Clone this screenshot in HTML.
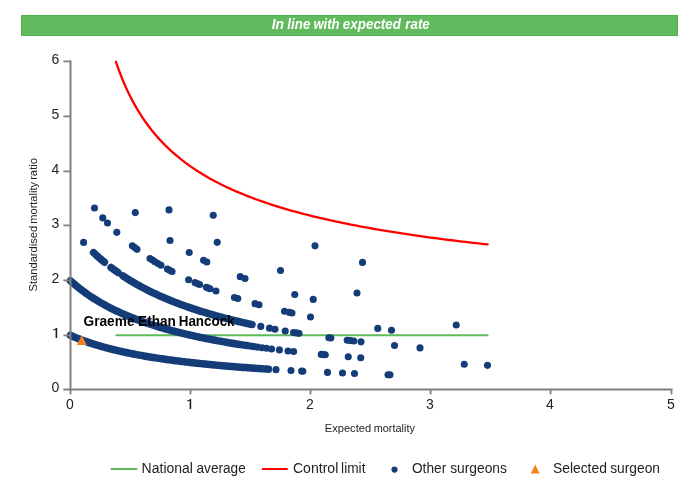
<!DOCTYPE html>
<html><head><meta charset="utf-8"><title>Chart</title>
<style>
html,body{margin:0;padding:0;background:#fff;}
body{width:700px;height:500px;overflow:hidden;font-family:"Liberation Sans",sans-serif;}
svg{display:block;font-family:"Liberation Sans",sans-serif;}
</style></head><body>
<svg width="700" height="500" viewBox="0 0 700 500">
<rect width="700" height="500" fill="#fff"/>
<rect x="21.5" y="15.5" width="656" height="20" fill="#61ba5d" stroke="#52b04f" stroke-width="1"/>
<line x1="116.3" y1="335.2" x2="487.6" y2="335.2" stroke="#5fba5c" stroke-width="2" stroke-linecap="round"/>
<polyline points="115.94,61.79 115.95,61.82 115.98,61.90 116.02,62.04 116.09,62.23 116.17,62.48 116.27,62.78 116.39,63.13 116.53,63.54 116.69,64.00 116.87,64.51 117.06,65.07 117.28,65.68 117.51,66.34 117.76,67.05 118.03,67.80 118.32,68.60 118.62,69.44 118.95,70.33 119.29,71.25 119.65,72.22 120.04,73.22 120.44,74.26 120.85,75.33 121.29,76.44 121.75,77.58 122.22,78.75 122.71,79.95 123.22,81.18 123.75,82.43 124.30,83.71 124.87,85.01 125.45,86.34 126.06,87.68 126.68,89.04 127.32,90.42 127.98,91.82 128.66,93.23 129.35,94.65 130.07,96.09 130.80,97.54 131.56,98.99 132.33,100.46 133.12,101.93 133.93,103.41 134.75,104.89 135.60,106.38 136.46,107.87 137.35,109.37 138.25,110.86 139.17,112.36 140.10,113.86 141.06,115.35 142.04,116.84 143.03,118.33 144.04,119.82 145.08,121.31 146.13,122.79 147.19,124.26 148.28,125.73 149.39,127.19 150.51,128.65 151.65,130.10 152.82,131.54 154.00,132.98 155.19,134.40 156.41,135.82 157.65,137.23 158.90,138.63 160.17,140.02 161.47,141.41 162.78,142.78 164.10,144.14 165.45,145.49 166.82,146.84 168.20,148.17 169.60,149.49 171.03,150.80 172.47,152.10 173.92,153.39 175.40,154.67 176.90,155.93 178.41,157.19 179.95,158.43 181.50,159.67 183.07,160.89 184.66,162.10 186.26,163.30 187.89,164.49 189.53,165.67 191.20,166.83 192.88,167.99 194.58,169.13 196.30,170.27 198.04,171.39 199.79,172.50 201.57,173.60 203.36,174.69 205.17,175.77 207.00,176.84 208.85,177.89 210.72,178.94 212.60,179.98 214.51,181.00 216.43,182.02 218.37,183.02 220.33,184.02 222.31,185.00 224.31,185.98 226.33,186.94 228.36,187.90 230.42,188.84 232.49,189.78 234.58,190.70 236.69,191.62 238.81,192.53 240.96,193.42 243.13,194.31 245.31,195.19 247.51,196.06 249.73,196.92 251.97,197.78 254.23,198.62 256.51,199.46 258.80,200.28 261.11,201.10 263.45,201.91 265.80,202.71 268.17,203.51 270.55,204.29 272.96,205.07 275.39,205.84 277.83,206.60 280.29,207.36 282.77,208.10 285.27,208.84 287.79,209.58 290.33,210.30 292.88,211.02 295.45,211.73 298.05,212.43 300.66,213.13 303.29,213.82 305.93,214.50 308.60,215.18 311.29,215.84 313.99,216.51 316.71,217.16 319.45,217.81 322.21,218.46 324.99,219.09 327.79,219.72 330.60,220.35 333.44,220.97 336.29,221.58 339.16,222.19 342.05,222.79 344.96,223.38 347.88,223.97 350.83,224.56 353.79,225.14 356.78,225.71 359.78,226.28 362.80,226.84 365.84,227.40 368.89,227.95 371.97,228.50 375.06,229.04 378.17,229.58 381.31,230.11 384.45,230.64 387.62,231.16 390.81,231.68 394.02,232.19 397.24,232.70 400.48,233.20 403.74,233.70 407.02,234.19 410.32,234.68 413.64,235.17 416.97,235.65 420.33,236.13 423.70,236.60 427.09,237.07 430.50,237.54 433.93,238.00 437.38,238.45 440.84,238.91 444.33,239.35 447.83,239.80 451.35,240.24 454.89,240.68 458.45,241.11 462.03,241.54 465.62,241.97 469.24,242.39 472.87,242.81 476.52,243.22 480.19,243.64 483.88,244.04 487.59,244.45" fill="none" stroke="#ff0000" stroke-width="2.3" stroke-linecap="round" stroke-linejoin="round"/>
<polyline points="70.40,335.28 71.90,335.95 73.40,336.61 74.90,337.25 76.40,337.87 77.90,338.48 79.40,339.07 80.91,339.65 82.41,340.22 83.91,340.78 85.41,341.32 86.91,341.85 88.41,342.37 89.91,342.88 91.41,343.38 92.91,343.86 94.41,344.34 95.91,344.81 97.41,345.27 98.91,345.71 100.42,346.15 101.92,346.58 103.42,347.01 104.92,347.42 106.42,347.83 107.92,348.23 109.42,348.62 110.92,349.00 112.42,349.38 113.92,349.75 115.42,350.11 116.92,350.47 118.42,350.82 119.93,351.16 121.43,351.50 122.93,351.83 124.43,352.16 125.93,352.48 127.43,352.79 128.93,353.11 130.43,353.41 131.93,353.71 133.43,354.01 134.93,354.30 136.43,354.58 137.93,354.86 139.43,355.14 140.94,355.41 142.44,355.68 143.94,355.94 145.44,356.20 146.94,356.46 148.44,356.71 149.94,356.96 151.44,357.20 152.94,357.44 154.44,357.68 155.94,357.92 157.44,358.15 158.94,358.37 160.45,358.60 161.95,358.82 163.45,359.04 164.95,359.25 166.45,359.46 167.95,359.67 169.45,359.88 170.95,360.08 172.45,360.28 173.95,360.48 175.45,360.67 176.95,360.87 178.45,361.06 179.96,361.24 181.46,361.43 182.96,361.61 184.46,361.79 185.96,361.97 187.46,362.15 188.96,362.32 190.46,362.49 191.96,362.66 193.46,362.83 194.96,362.99 196.46,363.16 197.96,363.32 199.47,363.48 200.97,363.63 202.47,363.79 203.97,363.94 205.47,364.09 206.97,364.24 208.47,364.39 209.97,364.54 211.47,364.68 212.97,364.83 214.47,364.97 215.97,365.11 217.47,365.25 218.97,365.38 220.48,365.52 221.98,365.65 223.48,365.79 224.98,365.92 226.48,366.05 227.98,366.18 229.48,366.30 230.98,366.43 232.48,366.55 233.98,366.67 235.48,366.80 236.98,366.92 238.48,367.04 239.99,367.15 241.49,367.27 242.99,367.39 244.49,367.50 245.99,367.61 247.49,367.72 248.99,367.84 250.49,367.94 251.99,368.05 253.49,368.16 254.99,368.27 256.49,368.37 257.99,368.48 259.50,368.58 261.00,368.68 262.50,368.78 264.00,368.88 265.50,368.98 267.00,369.08 268.50,369.18" fill="none" stroke="#143c78" stroke-width="7.5" stroke-linecap="round" stroke-linejoin="round"/>
<polyline points="70.40,280.76 71.91,282.11 73.42,283.43 74.93,284.71 76.44,285.97 77.95,287.19 79.46,288.39 80.97,289.55 82.48,290.69 83.98,291.81 85.49,292.90 87.00,293.97 88.51,295.01 90.02,296.03 91.53,297.03 93.04,298.01 94.55,298.97 96.06,299.91 97.57,300.82 99.08,301.72 100.59,302.61 102.10,303.47 103.61,304.32 105.12,305.15 106.63,305.97 108.14,306.77 109.64,307.55 111.15,308.32 112.66,309.08 114.17,309.82 115.68,310.55 117.19,311.26 118.70,311.96 120.21,312.65 121.72,313.33 123.23,314.00 124.74,314.65 126.25,315.29 127.76,315.93 129.27,316.55 130.78,317.16 132.29,317.76 133.79,318.35 135.30,318.93 136.81,319.51 138.32,320.07 139.83,320.62 141.34,321.17 142.85,321.71 144.36,322.23 145.87,322.75 147.38,323.27 148.89,323.77 150.40,324.27 151.91,324.76 153.42,325.24 154.93,325.72 156.44,326.18 157.95,326.65 159.45,327.10 160.96,327.55 162.47,327.99 163.98,328.43 165.49,328.86 167.00,329.28 168.51,329.70 170.02,330.11 171.53,330.52 173.04,330.92 174.55,331.31 176.06,331.70 177.57,332.09 179.08,332.47 180.59,332.84 182.10,333.21 183.61,333.58 185.11,333.94 186.62,334.30 188.13,334.65 189.64,335.00 191.15,335.34 192.66,335.68 194.17,336.01 195.68,336.34 197.19,336.67 198.70,336.99 200.21,337.31 201.72,337.62 203.23,337.93 204.74,338.24 206.25,338.55 207.76,338.85 209.26,339.14 210.77,339.43 212.28,339.72 213.79,340.01 215.30,340.29 216.81,340.57 218.32,340.85 219.83,341.12 221.34,341.40 222.85,341.66 224.36,341.93 225.87,342.19 227.38,342.45 228.89,342.70 230.40,342.96 231.91,343.21 233.42,343.46 234.92,343.70 236.43,343.95 237.94,344.19 239.45,344.42 240.96,344.66 242.47,344.89 243.98,345.12 245.49,345.35 247.00,345.58" fill="none" stroke="#143c78" stroke-width="7.5" stroke-linecap="round" stroke-linejoin="round"/>
<polyline points="93.60,252.65 95.14,254.11 96.69,255.53 98.23,256.93 99.77,258.30 101.31,259.64 102.86,260.95 104.40,262.24" fill="none" stroke="#143c78" stroke-width="7.5" stroke-linecap="round" stroke-linejoin="round"/>
<polyline points="111.00,267.46 112.75,268.78 114.50,270.06 116.25,271.32 118.00,272.56" fill="none" stroke="#143c78" stroke-width="7.5" stroke-linecap="round" stroke-linejoin="round"/>
<polyline points="123.00,275.94 124.50,276.92 126.00,277.88 127.50,278.83 129.00,279.76 130.50,280.67 132.00,281.57 133.50,282.46 135.00,283.33 136.50,284.18 138.00,285.02 139.50,285.85 141.00,286.67 142.50,287.47 144.00,288.26 145.50,289.04 147.00,289.81 148.50,290.56 150.00,291.31 151.50,292.04 153.00,292.76 154.50,293.47 156.00,294.17 157.50,294.87 159.00,295.55 160.50,296.22 162.00,296.88 163.50,297.53 165.00,298.18 166.50,298.81 168.00,299.44 169.50,300.05 171.00,300.66 172.50,301.26 174.00,301.86 175.50,302.44 177.00,303.02 178.50,303.59 180.00,304.15 181.50,304.70 183.00,305.25 184.50,305.79 186.00,306.33 187.50,306.85 189.00,307.37 190.50,307.89 192.00,308.39 193.50,308.90 195.00,309.39 196.50,309.88 198.00,310.36 199.50,310.84 201.00,311.31 202.50,311.78 204.00,312.24 205.50,312.69 207.00,313.14 208.50,313.59 210.00,314.03 211.50,314.46 213.00,314.89 214.50,315.32 216.00,315.74 217.50,316.15 219.00,316.56 220.50,316.97 222.00,317.37 223.50,317.77 225.00,318.16 226.50,318.55 228.00,318.93 229.50,319.31 231.00,319.69 232.50,320.06 234.00,320.43 235.50,320.79 237.00,321.15 238.50,321.51 240.00,321.86 241.50,322.21 243.00,322.56 244.50,322.90 246.00,323.24 247.50,323.58 249.00,323.91 250.50,324.24 252.00,324.56" fill="none" stroke="#143c78" stroke-width="7.5" stroke-linecap="round" stroke-linejoin="round"/>
<circle cx="276.00" cy="369.65" r="3.55" fill="#143c78"/>
<circle cx="291.00" cy="370.54" r="3.55" fill="#143c78"/>
<circle cx="301.60" cy="371.12" r="3.55" fill="#143c78"/>
<circle cx="302.80" cy="371.18" r="3.55" fill="#143c78"/>
<circle cx="327.50" cy="372.40" r="3.55" fill="#143c78"/>
<circle cx="342.50" cy="373.07" r="3.55" fill="#143c78"/>
<circle cx="354.50" cy="373.56" r="3.55" fill="#143c78"/>
<circle cx="388.00" cy="374.80" r="3.55" fill="#143c78"/>
<circle cx="390.00" cy="374.87" r="3.55" fill="#143c78"/>
<circle cx="251.00" cy="346.16" r="3.55" fill="#143c78"/>
<circle cx="254.00" cy="346.59" r="3.55" fill="#143c78"/>
<circle cx="257.50" cy="347.09" r="3.55" fill="#143c78"/>
<circle cx="262.00" cy="347.70" r="3.55" fill="#143c78"/>
<circle cx="266.50" cy="348.30" r="3.55" fill="#143c78"/>
<circle cx="271.60" cy="348.96" r="3.55" fill="#143c78"/>
<circle cx="279.40" cy="349.92" r="3.55" fill="#143c78"/>
<circle cx="288.00" cy="350.94" r="3.55" fill="#143c78"/>
<circle cx="293.60" cy="351.57" r="3.55" fill="#143c78"/>
<circle cx="321.30" cy="354.42" r="3.55" fill="#143c78"/>
<circle cx="323.30" cy="354.61" r="3.55" fill="#143c78"/>
<circle cx="325.30" cy="354.80" r="3.55" fill="#143c78"/>
<circle cx="348.25" cy="356.82" r="3.55" fill="#143c78"/>
<circle cx="360.75" cy="357.82" r="3.55" fill="#143c78"/>
<circle cx="464.25" cy="364.26" r="3.55" fill="#143c78"/>
<circle cx="487.50" cy="365.36" r="3.55" fill="#143c78"/>
<circle cx="83.60" cy="242.39" r="3.55" fill="#143c78"/>
<circle cx="260.75" cy="326.40" r="3.55" fill="#143c78"/>
<circle cx="269.50" cy="328.13" r="3.55" fill="#143c78"/>
<circle cx="275.00" cy="329.18" r="3.55" fill="#143c78"/>
<circle cx="285.25" cy="331.03" r="3.55" fill="#143c78"/>
<circle cx="293.50" cy="332.44" r="3.55" fill="#143c78"/>
<circle cx="296.25" cy="332.90" r="3.55" fill="#143c78"/>
<circle cx="299.00" cy="333.35" r="3.55" fill="#143c78"/>
<circle cx="328.90" cy="337.80" r="3.55" fill="#143c78"/>
<circle cx="330.80" cy="338.06" r="3.55" fill="#143c78"/>
<circle cx="347.20" cy="340.19" r="3.55" fill="#143c78"/>
<circle cx="350.50" cy="340.60" r="3.55" fill="#143c78"/>
<circle cx="353.80" cy="341.00" r="3.55" fill="#143c78"/>
<circle cx="361.00" cy="341.86" r="3.55" fill="#143c78"/>
<circle cx="394.50" cy="345.47" r="3.55" fill="#143c78"/>
<circle cx="420.00" cy="347.88" r="3.55" fill="#143c78"/>
<circle cx="94.50" cy="208.07" r="3.55" fill="#143c78"/>
<circle cx="102.75" cy="217.88" r="3.55" fill="#143c78"/>
<circle cx="107.50" cy="223.06" r="3.55" fill="#143c78"/>
<circle cx="116.80" cy="232.35" r="3.55" fill="#143c78"/>
<circle cx="132.40" cy="245.81" r="3.55" fill="#143c78"/>
<circle cx="134.70" cy="247.60" r="3.55" fill="#143c78"/>
<circle cx="137.00" cy="249.35" r="3.55" fill="#143c78"/>
<circle cx="150.00" cy="258.48" r="3.55" fill="#143c78"/>
<circle cx="152.50" cy="260.10" r="3.55" fill="#143c78"/>
<circle cx="155.00" cy="261.68" r="3.55" fill="#143c78"/>
<circle cx="158.00" cy="263.52" r="3.55" fill="#143c78"/>
<circle cx="161.00" cy="265.32" r="3.55" fill="#143c78"/>
<circle cx="167.40" cy="268.98" r="3.55" fill="#143c78"/>
<circle cx="169.70" cy="270.25" r="3.55" fill="#143c78"/>
<circle cx="172.00" cy="271.48" r="3.55" fill="#143c78"/>
<circle cx="188.60" cy="279.71" r="3.55" fill="#143c78"/>
<circle cx="195.00" cy="282.59" r="3.55" fill="#143c78"/>
<circle cx="197.30" cy="283.58" r="3.55" fill="#143c78"/>
<circle cx="199.60" cy="284.56" r="3.55" fill="#143c78"/>
<circle cx="206.40" cy="287.35" r="3.55" fill="#143c78"/>
<circle cx="208.20" cy="288.07" r="3.55" fill="#143c78"/>
<circle cx="210.00" cy="288.77" r="3.55" fill="#143c78"/>
<circle cx="216.00" cy="291.05" r="3.55" fill="#143c78"/>
<circle cx="234.40" cy="297.43" r="3.55" fill="#143c78"/>
<circle cx="237.80" cy="298.53" r="3.55" fill="#143c78"/>
<circle cx="255.00" cy="303.67" r="3.55" fill="#143c78"/>
<circle cx="259.00" cy="304.79" r="3.55" fill="#143c78"/>
<circle cx="284.50" cy="311.26" r="3.55" fill="#143c78"/>
<circle cx="289.50" cy="312.42" r="3.55" fill="#143c78"/>
<circle cx="292.00" cy="312.99" r="3.55" fill="#143c78"/>
<circle cx="310.50" cy="316.93" r="3.55" fill="#143c78"/>
<circle cx="377.75" cy="328.38" r="3.55" fill="#143c78"/>
<circle cx="391.50" cy="330.29" r="3.55" fill="#143c78"/>
<circle cx="135.25" cy="212.58" r="3.55" fill="#143c78"/>
<circle cx="170.00" cy="240.56" r="3.55" fill="#143c78"/>
<circle cx="189.20" cy="252.54" r="3.55" fill="#143c78"/>
<circle cx="203.60" cy="260.33" r="3.55" fill="#143c78"/>
<circle cx="206.80" cy="261.94" r="3.55" fill="#143c78"/>
<circle cx="240.25" cy="276.67" r="3.55" fill="#143c78"/>
<circle cx="245.00" cy="278.49" r="3.55" fill="#143c78"/>
<circle cx="294.75" cy="294.55" r="3.55" fill="#143c78"/>
<circle cx="313.25" cy="299.40" r="3.55" fill="#143c78"/>
<circle cx="456.25" cy="324.93" r="3.55" fill="#143c78"/>
<circle cx="169.00" cy="209.90" r="3.55" fill="#143c78"/>
<circle cx="217.20" cy="242.34" r="3.55" fill="#143c78"/>
<circle cx="280.50" cy="270.57" r="3.55" fill="#143c78"/>
<circle cx="357.00" cy="292.98" r="3.55" fill="#143c78"/>
<circle cx="213.25" cy="215.18" r="3.55" fill="#143c78"/>
<circle cx="315.00" cy="245.85" r="3.55" fill="#143c78"/>
<circle cx="362.50" cy="262.42" r="3.55" fill="#143c78"/>
<polygon points="81.8,335.3 76.8,345 86.8,345" fill="#f5821f"/>
<line x1="70.5" y1="60.4" x2="70.5" y2="390.4" stroke="#808080" stroke-width="2"/>
<line x1="63.4" y1="389.4" x2="672.5" y2="389.4" stroke="#808080" stroke-width="2"/>
<line x1="63.4" y1="335.40" x2="70.5" y2="335.40" stroke="#808080" stroke-width="1.8"/>
<path d="M55.60,337.90 L55.60,329.80 L53.20,330.40 L53.10,329.40 Q55.20,329.20 56.10,327.90 L57.15,327.90 L57.15,337.90 Z" fill="#1c1c1c"/>
<line x1="63.4" y1="280.40" x2="70.5" y2="280.40" stroke="#808080" stroke-width="1.8"/>
<line x1="63.4" y1="225.40" x2="70.5" y2="225.40" stroke="#808080" stroke-width="1.8"/>
<line x1="63.4" y1="171.40" x2="70.5" y2="171.40" stroke="#808080" stroke-width="1.8"/>
<line x1="63.4" y1="116.40" x2="70.5" y2="116.40" stroke="#808080" stroke-width="1.8"/>
<line x1="63.4" y1="61.40" x2="70.5" y2="61.40" stroke="#808080" stroke-width="1.8"/>
<line x1="70.50" y1="389.4" x2="70.50" y2="394.4" stroke="#808080" stroke-width="1.8"/>
<line x1="190.50" y1="389.4" x2="190.50" y2="394.4" stroke="#808080" stroke-width="1.8"/>
<path d="M189.65,408.90 L189.65,400.80 L187.25,401.40 L187.15,400.40 Q189.25,400.20 190.15,398.90 L191.20,398.90 L191.20,408.90 Z" fill="#1c1c1c"/>
<line x1="310.50" y1="389.4" x2="310.50" y2="394.4" stroke="#808080" stroke-width="1.8"/>
<line x1="430.60" y1="389.4" x2="430.60" y2="394.4" stroke="#808080" stroke-width="1.8"/>
<line x1="550.50" y1="389.4" x2="550.50" y2="394.4" stroke="#808080" stroke-width="1.8"/>
<line x1="671.50" y1="389.4" x2="671.50" y2="394.4" stroke="#808080" stroke-width="1.8"/>
<line x1="110.7" y1="469" x2="137.3" y2="469" stroke="#5fba5c" stroke-width="2"/>
<line x1="262" y1="469" x2="287.7" y2="469" stroke="#ff0000" stroke-width="2"/>
<circle cx="394.5" cy="469.6" r="3.1" fill="#143c78"/>
<polygon points="535.2,464.5 530.8,473.5 539.6,473.5" fill="#f5821f"/>
<g opacity="0.999">
<text x="271.74" y="28.9" font-size="14" font-weight="bold" font-style="italic" fill="#fff" textLength="12.29" lengthAdjust="spacingAndGlyphs">In</text>
<text x="287.35" y="28.9" font-size="14" font-weight="bold" font-style="italic" fill="#fff" textLength="22.99" lengthAdjust="spacingAndGlyphs">line</text>
<text x="313.39" y="28.9" font-size="14" font-weight="bold" font-style="italic" fill="#fff" textLength="26.13" lengthAdjust="spacingAndGlyphs">with</text>
<text x="342.82" y="28.9" font-size="14" font-weight="bold" font-style="italic" fill="#fff" textLength="58.17" lengthAdjust="spacingAndGlyphs">expected</text>
<text x="405.35" y="28.9" font-size="14" font-weight="bold" font-style="italic" fill="#fff" textLength="24.38" lengthAdjust="spacingAndGlyphs">rate</text>
<text x="59.3" y="391.90" font-size="14" text-anchor="end" fill="#222">0</text>
<text x="59.3" y="282.90" font-size="14" text-anchor="end" fill="#222">2</text>
<text x="59.3" y="227.90" font-size="14" text-anchor="end" fill="#222">3</text>
<text x="59.3" y="173.90" font-size="14" text-anchor="end" fill="#222">4</text>
<text x="59.3" y="118.90" font-size="14" text-anchor="end" fill="#222">5</text>
<text x="59.3" y="63.90" font-size="14" text-anchor="end" fill="#222">6</text>
<text x="69.90" y="409" font-size="14" text-anchor="middle" fill="#222">0</text>
<text x="309.90" y="409" font-size="14" text-anchor="middle" fill="#222">2</text>
<text x="430.00" y="409" font-size="14" text-anchor="middle" fill="#222">3</text>
<text x="549.90" y="409" font-size="14" text-anchor="middle" fill="#222">4</text>
<text x="670.90" y="409" font-size="14" text-anchor="middle" fill="#222">5</text>
<text x="83.49" y="325.7" font-size="14" font-weight="bold" fill="#000" textLength="51.06" lengthAdjust="spacingAndGlyphs">Graeme</text>
<text x="138.11" y="325.7" font-size="14" font-weight="bold" fill="#000" textLength="37.69" lengthAdjust="spacingAndGlyphs">Ethan</text>
<text x="178.72" y="325.7" font-size="14" font-weight="bold" fill="#000" textLength="55.84" lengthAdjust="spacingAndGlyphs">Hancock</text>
<text x="324.82" y="431.8" font-size="11.5" fill="#222" textLength="46.24" lengthAdjust="spacingAndGlyphs">Expected</text>
<text x="373.65" y="431.8" font-size="11.5" fill="#222" textLength="41.31" lengthAdjust="spacingAndGlyphs">mortality</text>
<text x="141.62" y="472.8" font-size="14" fill="#222" textLength="51.33" lengthAdjust="spacingAndGlyphs">National</text>
<text x="196.49" y="472.8" font-size="14" fill="#222" textLength="49.27" lengthAdjust="spacingAndGlyphs">average</text>
<text x="292.94" y="472.8" font-size="14" fill="#222" textLength="45.35" lengthAdjust="spacingAndGlyphs">Control</text>
<text x="341.10" y="472.8" font-size="14" fill="#222" textLength="24.38" lengthAdjust="spacingAndGlyphs">limit</text>
<text x="411.96" y="472.8" font-size="14" fill="#222" textLength="34.27" lengthAdjust="spacingAndGlyphs">Other</text>
<text x="450.21" y="472.8" font-size="14" fill="#222" textLength="56.67" lengthAdjust="spacingAndGlyphs">surgeons</text>
<text x="552.95" y="472.8" font-size="14" fill="#222" textLength="53.96" lengthAdjust="spacingAndGlyphs">Selected</text>
<text x="610.21" y="472.8" font-size="14" fill="#222" textLength="49.74" lengthAdjust="spacingAndGlyphs">surgeon</text>
<text transform="translate(37,291.51) rotate(-90)" font-size="11.5" fill="#222" textLength="65.72" lengthAdjust="spacingAndGlyphs">Standardised</text>
<text transform="translate(37,223.65) rotate(-90)" font-size="11.5" fill="#222" textLength="41.61" lengthAdjust="spacingAndGlyphs">mortality</text>
<text transform="translate(37,179.87) rotate(-90)" font-size="11.5" fill="#222" textLength="21.88" lengthAdjust="spacingAndGlyphs">ratio</text>
</g>
</svg>
</body></html>
